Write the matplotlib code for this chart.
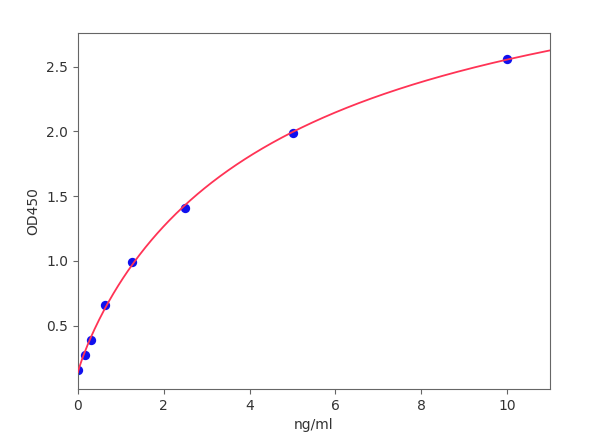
import numpy as np
import matplotlib
matplotlib.use("Agg")
import matplotlib.pyplot as plt

# Standard curve data
conc = [0.0, 0.156, 0.3125, 0.625, 1.25, 2.5, 5.0, 10.0]
od450 = [0.16, 0.27, 0.39, 0.66, 0.99, 1.41, 1.99, 2.56]

x = np.array(conc)
y = np.array(od450)

# 4-parameter logistic fit (grid search on b, c; linear least squares on a, d)
best = None
for b in np.linspace(0.5, 2.0, 151):
    for c in np.geomspace(0.5, 200, 300):
        g = 1.0 / (1.0 + (x / c) ** b)
        A = np.column_stack([g, 1 - g])
        coef, *_ = np.linalg.lstsq(A, y, rcond=None)
        r = np.sum((A @ coef - y) ** 2)
        if best is None or r < best[0]:
            best = (r, b, c, coef)
_, b, c, (a, d) = best

xf = np.linspace(0, 11, 400)
gf = 1.0 / (1.0 + (xf / c) ** b)
yf = a * gf + d * (1 - gf)

fig = plt.figure(figsize=(6.0, 4.48), dpi=100)
ax = fig.add_axes([78 / 600, 1 - 389 / 448, (550 - 78) / 600, (389 - 33) / 448])

ax.scatter(x, y, s=45, color="#1010ee", zorder=2, linewidths=0)
ax.plot(xf, yf, color="#ff3355", lw=1.3, zorder=3)

ax.set_xlim(0, 11)
ax.set_ylim(0.01, 2.76)
ax.set_xticks([0, 2, 4, 6, 8, 10])
ax.set_yticks([0.5, 1.0, 1.5, 2.0, 2.5])
ax.set_xlabel("ng/ml", color="#333333", fontsize=10)
ax.set_ylabel("OD450", color="#333333", fontsize=10)

for s in ax.spines.values():
    s.set_color("#666666")
ax.tick_params(colors="#666666", labelcolor="#333333", labelsize=10)

fig.savefig("out.png", dpi=100)
